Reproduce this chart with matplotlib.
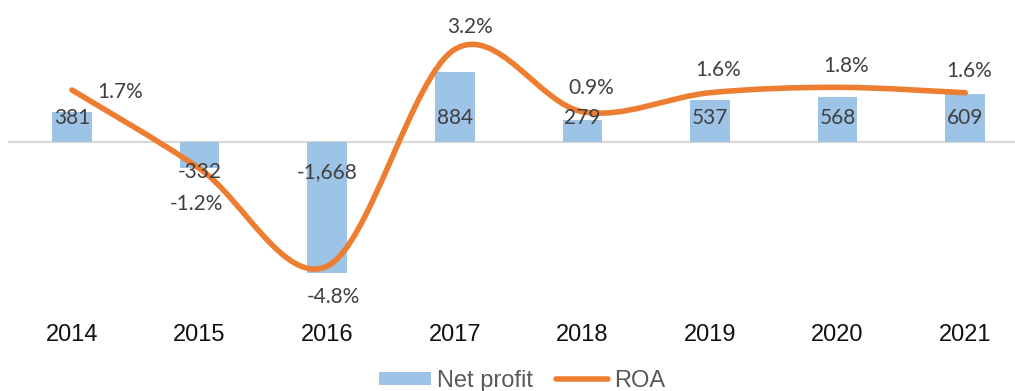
import numpy as np
import matplotlib.pyplot as plt
from matplotlib.path import Path
from matplotlib.patches import PathPatch, Patch
from matplotlib.lines import Line2D

years = ["2014", "2015", "2016", "2017", "2018", "2019", "2020", "2021"]
net_profit = [381, -332, -1668, 884, 279, 537, 568, 609]
roa = [1.7, -1.2, -4.8, 3.2, 0.9, 1.6, 1.8, 1.6]

# label offsets for the ROA labels, in pixels (dx, dy; dy positive = down)
roa_label_offsets = [(48, 2), (-3, 35), (6, 31), (15, -22), (9, -24), (8, -23), (8, -21), (4, -22)]

BAR_COLOR = "#9DC3E6"
LINE_COLOR = "#ED7D31"
LABEL_COLOR = "#404040"

fig = plt.figure(figsize=(10.15, 3.91), dpi=100)
ax = fig.add_axes([0, 0.207, 1, 0.780])
ax2 = ax.twinx()

x = np.arange(len(years))
ax.bar(x, net_profit, width=0.31, color=BAR_COLOR, zorder=2)
ax.hlines(0, -0.5, len(years) - 0.5, color="#D9D9D9", lw=1.6, zorder=1)

ax.set_xlim(-0.564, 7.39)
ax.set_ylim(-2134, 1740)
ax2.set_ylim(-6.42, 4.834)

for a in (ax, ax2):
    for s in a.spines.values():
        s.set_visible(False)
    a.set_yticks([])
ax.set_xticks(x)
ax.set_xticklabels(years, fontsize=17, family="Liberation Sans", color="#111111")
ax.tick_params(axis="x", length=0, pad=10)

# smoothed ROA line as cubic Bezier segments (Catmull-Rom style)
pts = np.column_stack([x, roa]).astype(float)
n = len(pts)
verts = [pts[0]]
codes = [Path.MOVETO]
for i in range(n - 1):
    p_prev = pts[max(i - 1, 0)]
    p0 = pts[i]
    p1 = pts[i + 1]
    p_next = pts[min(i + 2, n - 1)]
    c1 = p0 + (p1 - p_prev) / 6.0
    c2 = p1 - (p_next - p0) / 6.0
    verts += [c1, c2, p1]
    codes += [Path.CURVE4] * 3
roa_path = Path(verts, codes)
ax2.add_patch(PathPatch(roa_path, fill=False, edgecolor=LINE_COLOR, lw=4.0,
                        capstyle="round", joinstyle="round", zorder=3))

# bar labels at the inside base of each bar, drawn above the line
for xi, v in zip(x, net_profit):
    dy = -24 if v >= 0 else 30
    ax2.annotate(f"{v:,}", (xi, 0), xycoords=ax.transData,
                 xytext=(0, -dy * 0.72), textcoords="offset points",
                 ha="center", va="center", fontsize=15, family="Lato",
                 color=LABEL_COLOR, zorder=5)

for xi, v, (dx, dy) in zip(x, roa, roa_label_offsets):
    ax2.annotate(f"{v:.1f}%", (xi, v), xytext=(dx * 0.72, -dy * 0.72),
                 textcoords="offset points", ha="center", va="center",
                 fontsize=15, family="Lato", color=LABEL_COLOR, zorder=5)

handles = [Patch(facecolor=BAR_COLOR, edgecolor="none"),
           Line2D([0], [0], color=LINE_COLOR, lw=4.0, solid_capstyle="round")]
fig.legend(handles, ["Net profit", "ROA"], loc="center",
           bbox_to_anchor=(522 / 1015, 1 - 381 / 391), ncol=2, frameon=False,
           prop={"family": "Liberation Sans", "size": 17}, labelcolor="#595959",
           handlelength=2.2, handleheight=0.5, handletextpad=0.25, columnspacing=1.0)

fig.savefig("out.png", dpi=100)
